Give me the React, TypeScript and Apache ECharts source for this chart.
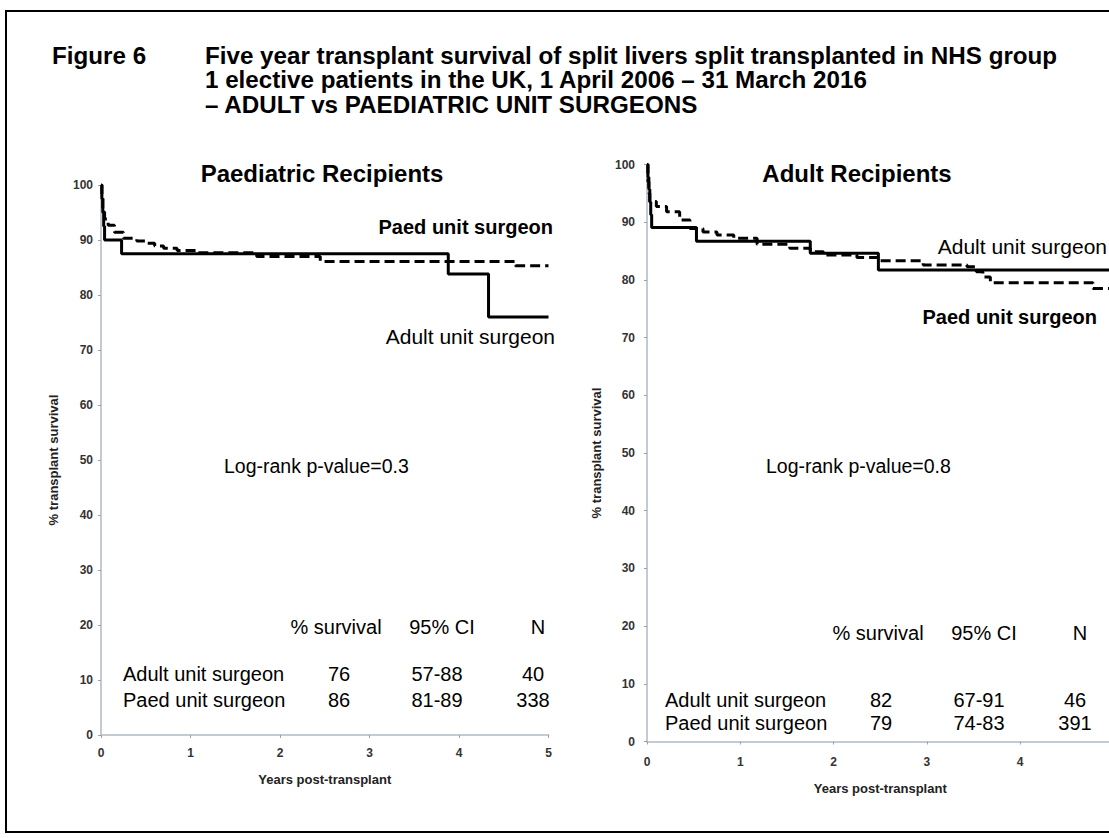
import React, { useEffect, useRef } from "react";
import * as echarts from "echarts";

const FONT = '"Liberation Sans", Arial, Helvetica, sans-serif';

// ---- Data ----
const leftYearTicks = [0, 1, 2, 3, 4, 5];
const rightYearTicks = [0, 1, 2, 3, 4]; // the "5" lies beyond the picture's right edge

// Paediatric recipients: [years, % survival]
const paedRecipAdultSurgeon: [number, number][] = [
  [0, 100], [0.01, 97.5], [0.02, 95], [0.03, 92.5], [0.04, 90],
  [0.23, 87.5], [3.88, 83.8], [4.33, 76.0], [5.0, 76.0],
];
const paedRecipPaedSurgeon: [number, number][] = [
  [0, 100], [0.01, 97.6], [0.02, 95.1], [0.04, 93.8], [0.08, 92.7],
  [0.15, 91.4], [0.25, 90.3], [0.4, 89.8], [0.51, 89.4], [0.6, 88.9],
  [0.7, 88.5], [0.85, 88.1], [1.07, 87.7], [1.74, 87.0], [2.45, 86.1],
  [4.63, 85.3], [5.0, 85.3],
];

// Adult recipients
const adultRecipAdultSurgeon: [number, number][] = [
  [0, 100], [0.01, 97.8], [0.02, 95.7], [0.03, 93.5], [0.04, 91.3],
  [0.05, 89.1], [0.53, 86.7], [1.75, 84.6], [2.48, 81.7], [5.0, 81.7],
];
const adultRecipPaedSurgeon: [number, number][] = [
  [0, 100], [0.01, 97], [0.02, 95], [0.03, 93.6], [0.1, 92.7],
  [0.21, 91.8], [0.35, 90.4], [0.46, 88.9], [0.6, 88.3], [0.75, 87.8],
  [0.93, 87.2], [1.18, 86.2], [1.53, 85.5], [1.75, 84.9], [1.89, 84.3],
  [2.25, 83.9], [2.5, 83.3], [2.96, 82.6], [3.43, 82.3], [3.53, 81.4],
  [3.6, 80.5], [3.68, 79.5], [4.78, 78.5], [5.0, 78.5],
];

// Summary tables
const tableHeaders = ["% survival", "95% CI", "N"];
const groupNames = ["Adult unit surgeon", "Paed unit surgeon"];
const paedSurvival = ["76", "86"];
const paedCI = ["57-88", "81-89"];
const paedN = ["40", "338"];
const adultSurvival = ["82", "79"];
const adultCI = ["67-91", "74-83"];
const adultN = ["46", "391"];
const pValues = ["0.3", "0.8"];

const titleLines = [
  "Five year transplant survival of split livers split transplanted in NHS group",
  "1 elective patients in the UK, 1 April 2006 \u2013 31 March 2016",
  "\u2013 ADULT vs PAEDIATRIC UNIT SURGEONS",
];

function txt(
  text: string, x: number, y: number, size: number,
  weight: string = "normal", align: string = "left"
) {
  return {
    type: "text",
    x, y, silent: true,
    style: {
      text, fill: "#000", fontSize: size, fontWeight: weight, fontFamily: FONT,
      lineHeight: Math.round(size * 0.95),
      textAlign: align, textVerticalAlign: "middle", align, verticalAlign: "middle",
    },
  };
}

function makeXAxis(gridIndex: number, offset: number, ticks: number[]) {
  return {
    gridIndex, type: "value", min: 0, max: 5, interval: 1, offset,
    name: "Years post-transplant", nameLocation: "middle", nameGap: 34,
    nameTextStyle: { fontSize: 13, fontWeight: "bold", color: "#222", fontFamily: FONT },
    axisLine: { show: true, lineStyle: { color: "#c3cad2", width: 2 } },
    axisTick: { show: true, length: 3, lineStyle: { color: "#9aa3ab" } },
    axisLabel: {
      fontSize: 12, fontWeight: "bold", color: "#333", margin: 8, fontFamily: FONT,
      formatter: (v: number) => (ticks.includes(v) ? String(v) : ""),
    },
    splitLine: { show: false },
  };
}

function makeYAxis(gridIndex: number, offset: number, gap: number) {
  return {
    gridIndex, type: "value", min: 0, max: 100, interval: 10, offset,
    name: "% transplant survival", nameLocation: "middle", nameGap: gap, nameRotate: 90,
    nameTextStyle: { fontSize: 13, fontWeight: "bold", color: "#222", fontFamily: FONT },
    axisLine: { show: true, lineStyle: { color: "#c3cad2", width: 2 } },
    axisTick: { show: true, length: 3, lineStyle: { color: "#9aa3ab" } },
    axisLabel: { fontSize: 12, fontWeight: "bold", color: "#333", margin: 7, fontFamily: FONT },
    splitLine: { show: false },
  };
}

function curve(data: [number, number][], idx: number, dashed: boolean) {
  return {
    type: "line", xAxisIndex: idx, yAxisIndex: idx, data, step: "end",
    symbol: "none", silent: true, z: dashed ? 3 : 4,
    lineStyle: { color: "#000", width: 3, type: dashed ? [10, 5] : "solid" },
  };
}

function tableGraphics(
  axisX: number, headerY: number, rowYs: number[],
  surv: string[], ci: string[], n: string[]
) {
  const els: any[] = [];
  const headerX = [236, 342, 438];
  const valueX = [239, 337, 433];
  tableHeaders.forEach((h, i) => els.push(txt(h, axisX + headerX[i], headerY, 20, "normal", "center")));
  groupNames.forEach((g, r) => {
    els.push(txt(g, axisX + 23, rowYs[r], 20, "normal", "left"));
    els.push(txt(surv[r], axisX + valueX[0], rowYs[r], 20, "normal", "center"));
    els.push(txt(ci[r], axisX + valueX[1], rowYs[r], 20, "normal", "center"));
    els.push(txt(n[r], axisX + valueX[2], rowYs[r], 20, "normal", "center"));
  });
  return els;
}

export default function App() {
  const ref = useRef<HTMLDivElement>(null);

  useEffect(() => {
    if (!ref.current) return;
    const chart = echarts.init(ref.current, null, { renderer: "svg", width: 1130, height: 838 });

    const graphics: any[] = [
      {
        type: "rect", silent: true,
        shape: { x: 6, y: 11, width: 1200, height: 821 },
        style: { fill: "none", stroke: "#000", lineWidth: 2 },
      },
      txt("Figure 6", 52, 55, 24.2, "bold"),
      ...titleLines.map((l, i) => txt(l, 205, 55 + i * 24.6, 24.2, "bold")),
      txt("Paediatric Recipients", 322, 173, 24, "bold", "center"),
      txt("Adult Recipients", 857, 173, 24, "bold", "center"),
      txt("Paed unit surgeon", 553, 227, 20, "bold", "right"),
      txt("Adult unit surgeon", 555, 336, 21, "normal", "right"),
      txt("Adult unit surgeon", 1107, 246, 21, "normal", "right"),
      txt("Paed unit surgeon", 1097, 317, 20, "bold", "right"),
      txt("Log-rank p-value=" + pValues[0], 224, 466, 19.5, "normal", "left"),
      txt("Log-rank p-value=" + pValues[1], 766, 466, 19.5, "normal", "left"),
      ...tableGraphics(100, 627, [674, 700], paedSurvival, paedCI, paedN),
      ...tableGraphics(642, 633, [700, 723], adultSurvival, adultCI, adultN),
    ];

    chart.setOption({
      animation: false,
      backgroundColor: "#fff",
      grid: [
        { left: 101, top: 185, width: 447.5, height: 550, containLabel: false },
        { left: 647, top: 164.5, width: 466.5, height: 577, containLabel: false },
      ],
      xAxis: [makeXAxis(0, 4, leftYearTicks), makeXAxis(1, 6.5, rightYearTicks)],
      yAxis: [makeYAxis(0, 1, 40), makeYAxis(1, 5, 39)],
      series: [
        curve(paedRecipPaedSurgeon, 0, true),
        curve(paedRecipAdultSurgeon, 0, false),
        curve(adultRecipPaedSurgeon, 1, true),
        curve(adultRecipAdultSurgeon, 1, false),
      ],
      graphic: graphics,
    });

    return () => chart.dispose();
  }, []);

  return (
    <div
      style={{
        position: "absolute", left: 0, top: 0, width: 1109, height: 838,
        overflow: "hidden", background: "#fff",
      }}
    >
      <div ref={ref} style={{ width: 1130, height: 838 }} />
    </div>
  );
}
